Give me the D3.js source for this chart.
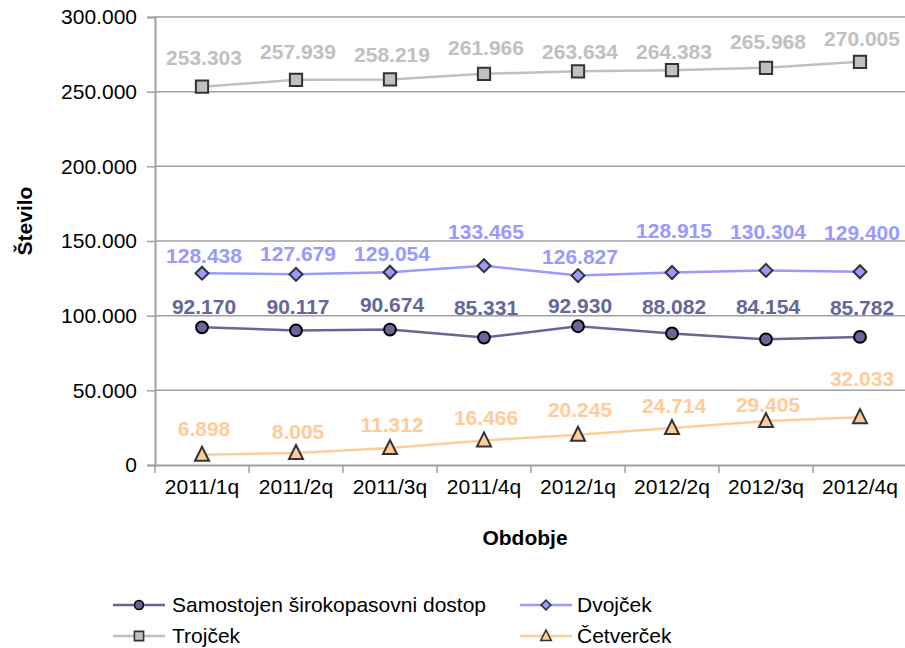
<!DOCTYPE html>
<html><head><meta charset="utf-8">
<script src="https://cdn.jsdelivr.net/npm/d3@7"></script>
<style>
html,body{margin:0;padding:0;background:#fff;}
svg{display:block;font-family:"Liberation Sans",Arial,sans-serif;}
</style></head>
<body>
<svg id="chart" width="905" height="648"></svg>
<script>
// ---- data ----
const categories = ["2011/1q","2011/2q","2011/3q","2011/4q","2012/1q","2012/2q","2012/3q","2012/4q"];
const samostojen = [92170, 90117, 90674, 85331, 92930, 88082, 84154, 85782];
const dvojcek    = [128438, 127679, 129054, 133465, 126827, 128915, 130304, 129400];
const trojcek    = [253303, 257939, 258219, 261966, 263634, 264383, 265968, 270005];
const cetvercek  = [6898, 8005, 11312, 16466, 20245, 24714, 29405, 32033];
const yTicks = [0, 50000, 100000, 150000, 200000, 250000, 300000];
const seriesNames = ["Samostojen širokopasovni dostop","Dvojček","Trojček","Četverček"];
// label vertical nudges (px above the point), as placed in the reference
const labelDy = {
  samostojen:[21,24,25,30,21,27,33,29],
  dvojcek:[18,21,19,34,19,42,39,39],
  trojcek:[29,28,25,26,20,19,26,23],
  cetvercek:[26,22,24,23,25,23,17,39]
};

const series = [
  {key:"samostojen", name:seriesNames[0], values:samostojen, color:"#666699", marker:"circle"},
  {key:"dvojcek",    name:seriesNames[1], values:dvojcek,    color:"#9999FF", marker:"diamond"},
  {key:"trojcek",    name:seriesNames[2], values:trojcek,    color:"#C0C0C0", marker:"square"},
  {key:"cetvercek",  name:seriesNames[3], values:cetvercek,  color:"#FFCC99", marker:"triangle"}
];

const svg = d3.select("#chart");
const pLeft = 155, pRight = 907, pTop = 17, pBottom = 465;

const x = d3.scaleBand().domain(categories).range([pLeft, pRight]).padding(0);
const cx = c => x(c) + x.bandwidth()/2;
const y = d3.scaleLinear().domain([0, 300000]).range([pBottom, pTop]);

const loc = d3.formatLocale({decimal:",", thousands:".", grouping:[3], currency:["","€"]});
const fmt = loc.format(",d");

// gridlines
svg.append("g").selectAll("line").data(yTicks.filter(t=>t>0)).join("line")
  .attr("x1", pLeft).attr("x2", pRight)
  .attr("y1", d=>y(d)).attr("y2", d=>y(d))
  .attr("stroke", "#A0A0A0").attr("stroke-width", 1.5);

// y axis
const yAxis = svg.append("g").attr("transform", `translate(${pLeft},0)`)
  .call(d3.axisLeft(y).tickValues(yTicks).tickFormat(fmt).tickSize(8).tickPadding(10));
yAxis.select(".domain").attr("stroke","#A0A0A0").attr("stroke-width",2);
yAxis.selectAll(".tick line").attr("stroke","#A0A0A0").attr("stroke-width",1.5);
yAxis.selectAll(".tick text").attr("font-size", 21).attr("fill","#000")
  .attr("font-family",'"Liberation Sans",Arial,sans-serif');

// x axis
const xAxis = svg.append("g").attr("transform", `translate(0,${pBottom})`)
  .call(d3.axisBottom(x).tickSize(0).tickPadding(14));
xAxis.select(".domain").attr("stroke","#A0A0A0").attr("stroke-width",2);
xAxis.selectAll(".tick text").attr("font-size", 21).attr("fill","#000")
  .attr("font-family",'"Liberation Sans",Arial,sans-serif');
const edges = categories.map(c => x(c)).concat([pRight]);
svg.append("g").selectAll("line").data(edges).join("line")
  .attr("x1", d=>d).attr("x2", d=>d).attr("y1", pBottom).attr("y2", pBottom+8)
  .attr("stroke","#A0A0A0").attr("stroke-width",1.5);

// axis titles
svg.append("text").attr("x", 525).attr("y", 545).attr("text-anchor","middle")
  .attr("font-size", 21).attr("font-weight","bold").text("Obdobje");
svg.append("text").attr("transform","translate(32,221) rotate(-90)").attr("text-anchor","middle")
  .attr("font-size", 21).attr("font-weight","bold").text("Število");

// markers
function markerPath(type, s) {
  s = s || 1;
  if (type === "circle") return d3.symbol(d3.symbolCircle, 110*s*s)();
  if (type === "square") return d3.symbol(d3.symbolSquare, 150*s*s)();
  if (type === "diamond") { const h = 6.5*s; return `M0,${-h}L${h},0L0,${h}L${-h},0Z`; }
  if (type === "triangle") { const w = 7*s; return `M0,${-8*s}L${w},${6*s}L${-w},${6*s}Z`; }
}

const line = d3.line().x((d,i)=>cx(categories[i])).y(d=>y(d));

series.forEach(s => {
  const g = svg.append("g");
  g.append("path").datum(s.values).attr("d", line).attr("fill","none")
    .attr("stroke", s.color).attr("stroke-width", 2.5);
  g.selectAll("path.m").data(s.values).join("path").attr("class","m")
    .attr("transform", (d,i)=>`translate(${cx(categories[i])},${y(d)})`)
    .attr("d", markerPath(s.marker))
    .attr("fill", s.color).attr("stroke", s.marker==="circle" ? "#000" : "#333333").attr("stroke-width", 2);
  g.selectAll("text").data(s.values).join("text")
    .attr("x", (d,i)=>cx(categories[i]) + 2)
    .attr("y", (d,i)=>y(d) - labelDy[s.key][i])
    .attr("dy","0.36em")
    .attr("text-anchor","middle").attr("font-size", 21).attr("font-weight","bold")
    .attr("fill", s.color).text(d=>fmt(d));
});

// legend
const legendPos = [
  {lx:113, ly:605, tx:172},
  {lx:520, ly:605, tx:577},
  {lx:113, ly:636, tx:172},
  {lx:520, ly:636, tx:577}
];
series.forEach((s,i) => {
  const p = legendPos[i];
  const g = svg.append("g");
  g.append("line").attr("x1", p.lx).attr("x2", p.lx+52).attr("y1", p.ly).attr("y2", p.ly)
    .attr("stroke", s.color).attr("stroke-width", 2.5);
  g.append("path").attr("transform", `translate(${p.lx+26},${p.ly})`)
    .attr("d", markerPath(s.marker, 0.75))
    .attr("fill", s.color).attr("stroke", s.marker==="circle" ? "#000" : "#333333").attr("stroke-width", 1.6);
  g.append("text").attr("x", p.tx).attr("y", p.ly).attr("dy","0.33em")
    .attr("font-size", 21).attr("fill","#000").text(s.name);
});
</script>
</body></html>
